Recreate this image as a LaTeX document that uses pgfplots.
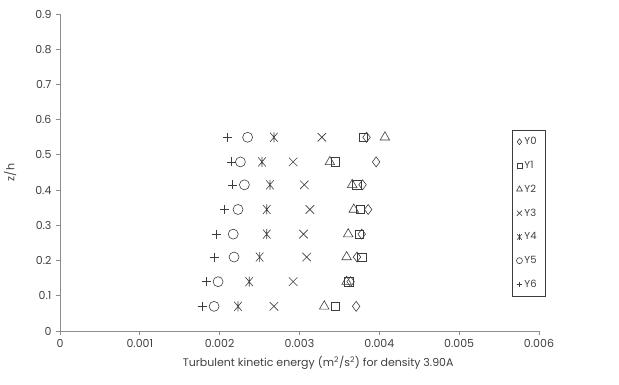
\documentclass[border=0pt]{standalone}
\usepackage{pgfplots}
\usepackage{pgfplotstable}
\pgfplotsset{compat=1.18}
\usetikzlibrary{plotmarks}
\usepackage{fontspec}
\setmainfont{Poppins}

\definecolor{markgray}{HTML}{3C3C3C}
\definecolor{axisgray}{HTML}{8C8C8C}
\definecolor{textgray}{HTML}{404040}

% X with a vertical stroke through it
\pgfdeclareplotmark{xstar}{%
  \pgfpathmoveto{\pgfqpoint{-0.75\pgfplotmarksize}{-0.9\pgfplotmarksize}}%
  \pgfpathlineto{\pgfqpoint{0.75\pgfplotmarksize}{0.9\pgfplotmarksize}}%
  \pgfpathmoveto{\pgfqpoint{-0.75\pgfplotmarksize}{0.9\pgfplotmarksize}}%
  \pgfpathlineto{\pgfqpoint{0.75\pgfplotmarksize}{-0.9\pgfplotmarksize}}%
  \pgfpathmoveto{\pgfqpoint{0pt}{-\pgfplotmarksize}}%
  \pgfpathlineto{\pgfqpoint{0pt}{\pgfplotmarksize}}%
  \pgfusepathqstroke}

% turbulent kinetic energy (m^2/s^2) at each height z/h, one column per section
\pgfplotstableread{
z     Y0      Y1      Y2      Y3      Y4      Y5      Y6
0.55  0.00384 0.00380 0.00407 0.00328 0.00268 0.00235 0.00210
0.48  0.00396 0.00345 0.00338 0.00292 0.00253 0.00226 0.00215
0.415 0.00379 0.00372 0.00366 0.00306 0.00263 0.00231 0.00216
0.345 0.00386 0.00376 0.00368 0.00313 0.00259 0.00223 0.00206
0.275 0.00378 0.00375 0.00361 0.00305 0.00259 0.00217 0.00196
0.21  0.00372 0.00378 0.00359 0.00309 0.00250 0.00218 0.00193
0.14  0.00364 0.00362 0.00359 0.00292 0.00237 0.00198 0.00183
0.07  0.00371 0.00345 0.00331 0.00268 0.00223 0.00193 0.00178
}\tkedata

\begin{document}
\begin{tikzpicture}
\path[use as bounding box] (-60pt,-54pt) rectangle (559pt,331pt);
\begin{axis}[
  at={(0pt,0pt)}, anchor=south west,
  scale only axis, width=479pt, height=317pt,
  xmin=0, xmax=0.006, ymin=0, ymax=0.9,
  scaled x ticks=false, scaled y ticks=false,
  axis x line*=bottom, axis y line*=left,
  axis line style={axisgray, line width=0.8pt},
  xtick={0,0.001,0.002,0.003,0.004,0.005,0.006},
  xticklabels={0,0.001,0.002,0.003,0.004,0.005,0.006},
  ytick={0,0.1,0.2,0.3,0.4,0.5,0.6,0.7,0.8,0.9},
  yticklabels={0,0.1,0.2,0.3,0.4,0.5,0.6,0.7,0.8,0.9},
  tick align=outside, major tick length=4pt,
  tick style={axisgray, line width=0.8pt},
  ticklabel style={font=\fontsize{11}{13}\selectfont, text=textgray},
  yticklabel style={xshift=-1pt},
  xticklabel style={yshift=-1pt},
  xlabel={Turbulent kinetic energy (m\textsuperscript{2}/s\textsuperscript{2}) for density 3.90A},
  ylabel={z/h},
  label style={font=\fontsize{11}{13}\selectfont, text=textgray},
  xlabel style={at={(axis description cs:0.539,-0.101)}, anchor=center},
  ylabel style={at={(axis description cs:-0.104,0.50)}, anchor=center},
  every axis plot/.append style={only marks, draw=markgray, line width=0.6pt},
  legend style={at={(axis description cs:0.944,0.634)}, anchor=north west,
    draw=markgray, line width=0.6pt, font=\fontsize{10}{11}\selectfont,
    text=textgray, row sep=11pt, inner xsep=4pt, inner ysep=5pt,
    text width=15pt, cells={anchor=west}},
  legend image code/.code={%
    \draw[#1, mark options={scale=0.6}] plot coordinates {(0.1cm,0cm)};},
]
\addplot[mark=diamond, mark size=5pt] table[x=Y0, y=z] {\tkedata};
\addlegendentry{Y0}
\addplot[mark=square, mark size=4.2pt] table[x=Y1, y=z] {\tkedata};
\addlegendentry{Y1}
\addplot[mark=triangle, mark size=5.5pt] table[x=Y2, y=z] {\tkedata};
\addlegendentry{Y2}
\addplot[mark=x, mark size=6pt] table[x=Y3, y=z] {\tkedata};
\addlegendentry{Y3}
\addplot[mark=xstar, mark size=5pt] table[x=Y4, y=z] {\tkedata};
\addlegendentry{Y4}
\addplot[mark=o, mark size=5pt] table[x=Y5, y=z] {\tkedata};
\addlegendentry{Y5}
\addplot[mark=+, mark size=4.5pt] table[x=Y6, y=z] {\tkedata};
\addlegendentry{Y6}
\end{axis}
\end{tikzpicture}
\end{document}
